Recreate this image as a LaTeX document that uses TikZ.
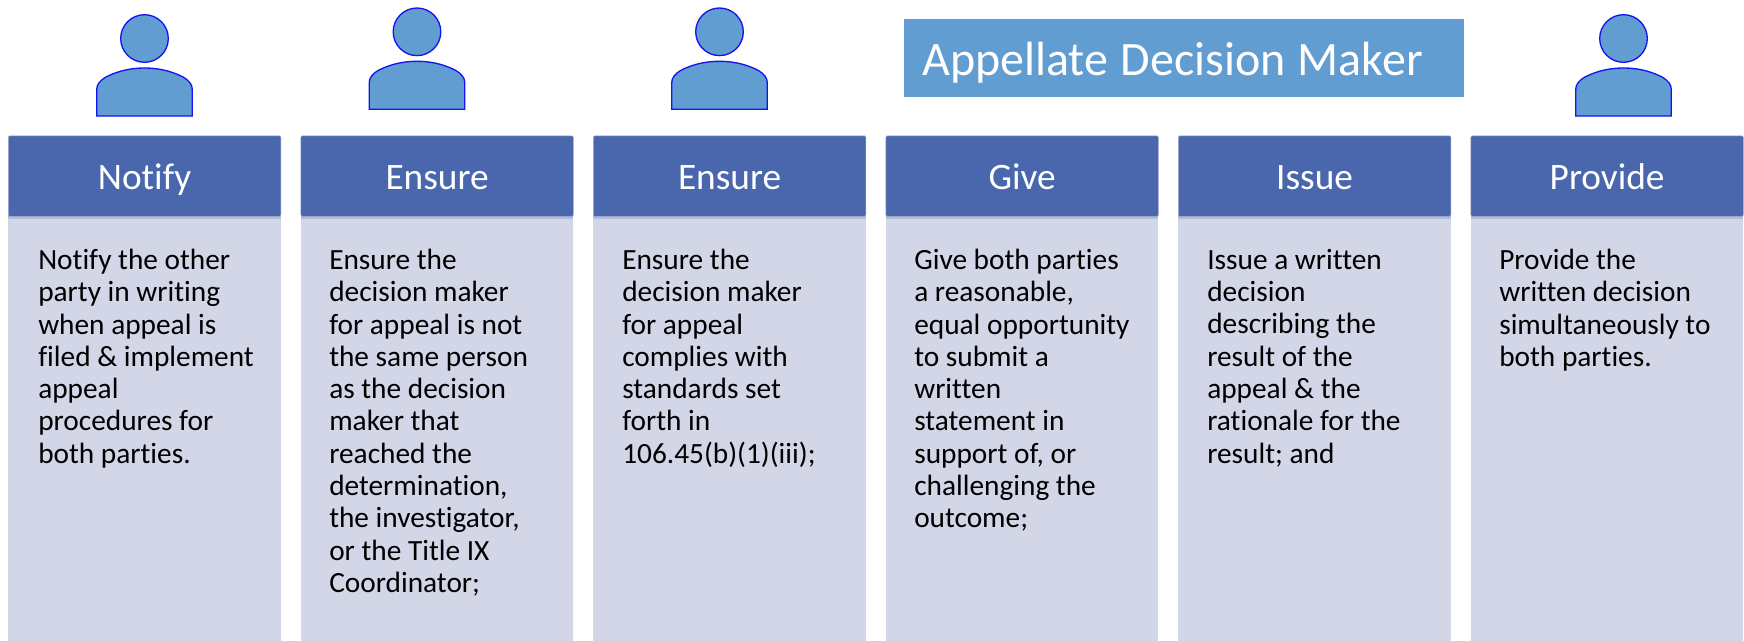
\documentclass[tikz,border=0pt]{standalone}
\usepackage{fontspec}
\setmainfont{Carlito}[Ligatures={NoCommon}]
\definecolor{hdr}{HTML}{4A67AD}
\definecolor{bodyc}{HTML}{D2D6E7}
\definecolor{edgec}{HTML}{A0AACB}
\definecolor{bandc}{HTML}{B4BCD8}
\definecolor{pers}{HTML}{629DD1}
\definecolor{persl}{HTML}{1414F0}
\tikzset{
  hdrbox/.style={fill=hdr,draw=edgec,line width=.4pt,rounded corners=1pt,minimum width=204.5pt,minimum height=60.5pt,inner sep=0pt,anchor=north west,text=white,text height=20.5pt,text depth=0pt,font=\fontsize{28}{28}\selectfont},
  bodybox/.style={fill=bodyc,draw=none,inner sep=0pt,minimum width=204.5pt,anchor=north west,minimum height=319pt},
  bandbox/.style={fill=bandc,draw=none,inner sep=0pt,minimum width=204.5pt,anchor=north west,minimum height=2pt},
  bodytext/.style={anchor=north west,align=left,inner sep=0pt,font=\fontsize{22}{24.2}\selectfont},
  persline/.style={fill=pers,draw=persl,line width=1pt},
  banner/.style={fill=pers,draw=none,inner sep=0pt,anchor=north west,minimum width=420pt,minimum height=58.5pt,text=white,text height=26pt,text depth=0pt,font=\fontsize{36}{36}\selectfont,align=left,text width=393pt}
}
\newcommand{\personfig}[4]{% name, cx, top-of-head y (px), head half-width (px)
  \draw[persline] (#2,#3+23.8) ellipse [x radius=#4,y radius=23.8];
  \draw[persline] (#2-47.8,#3+101.3) -- (#2-47.8,#3+75)
     .. controls (#2-47.8,#3+70) and (#2-45,#3+66) .. (#2-38,#3+62)
     .. controls (#2-25,#3+55.5) and (#2-12,#3+53.3) .. (#2,#3+53.3)
     .. controls (#2+12,#3+53.3) and (#2+25,#3+55.5) .. (#2+38,#3+62)
     .. controls (#2+45,#3+66) and (#2+47.8,#3+70) .. (#2+47.8,#3+75)
     -- (#2+47.8,#3+101.3) -- cycle;
}
\begin{document}
\begin{tikzpicture}[x=0.75pt,y=-0.75pt]
\useasboundingbox (0,0) rectangle (1744,640);
\personfig{p1}{144.5}{14.7}{23.8}
\personfig{p2}{417}{8}{23.8}
\personfig{p3}{719.5}{8}{23.8}
\personfig{p4}{1623.5}{14.7}{23.8}
\node[banner] (ban) at (904,19) {\spaceskip=9.2pt\relax Appellate Decision Maker};
\foreach \nm/\x/\t in {a/8/Notify,b/300.5/Ensure,c/593/Ensure,d/885.5/Give,e/1178/Issue,f/1470.5/Provide}{
  \node[bodybox] (\nm b) at (\x,216) {};
  \node[bandbox] (\nm s) at (\x,216) {};
  \node[hdrbox] (\nm h) at (\x,135.5) {\t};
}
\node[bodytext] (ta) at (38,249) {Notify the other\\party in writing\\when appeal is\\filed \& implement\\appeal\\procedures for\\both parties.};
\node[bodytext] (tb) at (329,249) {Ensure the\\decision maker\\for appeal is not\\the same person\\as the decision\\maker that\\reached the\\determination,\\the investigator,\\or the Title IX\\Coordinator;};
\node[bodytext] (tc) at (622,249) {Ensure the\\decision maker\\for appeal\\complies with\\standards set\\forth in\\106.45(b)(1)(iii);};
\node[bodytext] (td) at (914,249) {Give both parties\\a reasonable,\\equal opportunity\\to submit a\\written\\statement in\\support of, or\\challenging the\\outcome;};
\node[bodytext] (te) at (1207,249) {Issue a written\\decision\\describing the\\result of the\\appeal \& the\\rationale for the\\result; and};
\node[bodytext] (tf) at (1499,249) {Provide the\\written decision\\simultaneously to\\both parties.};
\end{tikzpicture}
\end{document}
